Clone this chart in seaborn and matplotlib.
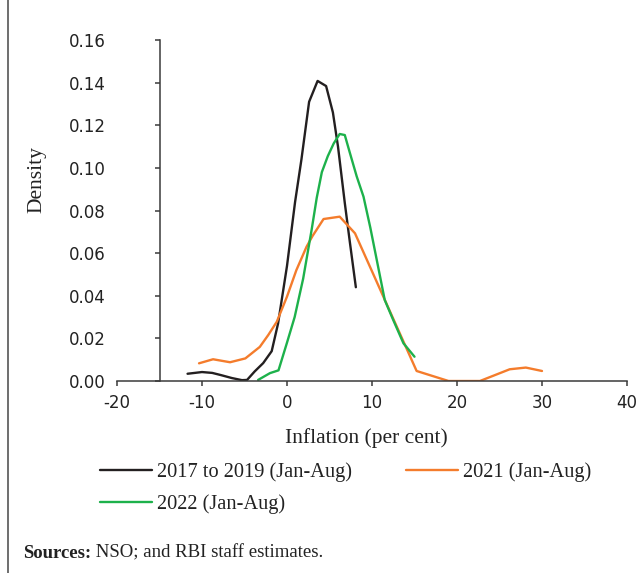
import numpy as np
import pandas as pd
import matplotlib
matplotlib.use("Agg")
import matplotlib.pyplot as plt
from matplotlib.lines import Line2D
from matplotlib.ticker import FormatStrFormatter
import seaborn as sns

# Kernel density estimates of inflation (per cent) by period
series_labels = ["2017 to 2019 (Jan-Aug)", "2021 (Jan-Aug)", "2022 (Jan-Aug)"]
series_colors = ["#231f20", "#f47c2c", "#1db14b"]

infl_2017_19 = [-11.7, -10.0, -8.8, -7.8, -6.5, -5.3, -4.7, -3.8, -2.8, -1.8, -1.05,
                0.0, 0.95, 1.7, 2.6, 3.6, 4.6, 5.4, 6.0, 6.8, 7.4, 8.1]
dens_2017_19 = [0.0034, 0.0042, 0.0038, 0.0028, 0.0014, 0.0004, 0.0005, 0.0045, 0.0084,
                0.014, 0.027, 0.054, 0.084, 0.104, 0.131, 0.1408, 0.1384, 0.126, 0.110,
                0.0835, 0.065, 0.044]

infl_2021 = [-10.35, -8.7, -6.7, -4.9, -3.2, -2.2, -1.2, 0.0, 1.1, 2.3, 3.0, 4.3, 6.2,
             8.0, 15.25, 19.0, 22.7, 26.2, 28.1, 30.0]
dens_2021 = [0.0083, 0.0102, 0.0088, 0.0106, 0.016, 0.0216, 0.0278, 0.0396, 0.052, 0.063,
             0.068, 0.076, 0.0771, 0.0693, 0.0047, 0.0, 0.0, 0.0055, 0.0063, 0.0047]

infl_2022 = [-3.4, -2.0, -1.0, 0.0, 0.9, 1.9, 2.9, 3.5, 4.1, 4.8, 5.5, 6.2, 6.8, 7.4, 8.2,
             9.0, 9.8, 10.7, 11.5, 12.5, 13.7, 15.0]
dens_2022 = [0.0005, 0.0037, 0.005, 0.018, 0.030, 0.048, 0.071, 0.086, 0.098, 0.1055,
             0.1115, 0.1159, 0.1154, 0.107, 0.096, 0.0865, 0.072, 0.054, 0.038, 0.0286,
             0.0177, 0.0114]

x_ticks = [-20, -10, 0, 10, 20, 30, 40]
y_ticks = [0.00, 0.02, 0.04, 0.06, 0.08, 0.10, 0.12, 0.14, 0.16]

df = pd.concat([
    pd.DataFrame({"inflation": infl_2017_19, "density": dens_2017_19, "series": series_labels[0]}),
    pd.DataFrame({"inflation": infl_2021, "density": dens_2021, "series": series_labels[1]}),
    pd.DataFrame({"inflation": infl_2022, "density": dens_2022, "series": series_labels[2]}),
], ignore_index=True)

sns.set_theme(style="white")
plt.rcParams["font.family"] = ["Liberation Serif", "DejaVu Serif"]
plt.rcParams["axes.unicode_minus"] = False

W, H, DPI = 638, 573, 100
fig = plt.figure(figsize=(W / DPI, H / DPI), dpi=DPI)
ax = fig.add_axes([117 / W, 1 - 381 / H, 510 / W, 341 / H])

axis_color = "#3a3a3a"
text_color = "#222222"
lw = 1.7

sns.lineplot(data=df, x="inflation", y="density", hue="series", hue_order=series_labels,
             palette=series_colors, sort=False, estimator=None, linewidth=lw,
             legend=False, ax=ax)

ax.set_xlim(x_ticks[0], x_ticks[-1])
ax.set_ylim(y_ticks[0], y_ticks[-1])
ax.set_xticks(x_ticks)
ax.set_yticks(y_ticks)
ax.yaxis.set_major_formatter(FormatStrFormatter("%.2f"))

for side in ["top", "right", "left"]:
    ax.spines[side].set_visible(False)
ax.spines["bottom"].set_color(axis_color)
ax.spines["bottom"].set_linewidth(1.1)

ax.tick_params(axis="x", direction="out", length=3.6, width=1.1, color=axis_color,
               pad=6, labelsize=12, labelcolor=text_color, bottom=True,
               labelfontfamily="DejaVu Sans")
ax.tick_params(axis="y", length=0, pad=8, labelsize=12, labelcolor=text_color,
               labelfontfamily="DejaVu Sans")

# vertical axis line crossing the x-axis at -15
sec = ax.secondary_yaxis((-15 - x_ticks[0]) / (x_ticks[-1] - x_ticks[0]))
sec.set_yticks(y_ticks)
sec.tick_params(axis="y", direction="out", length=3.6, width=1.1, color=axis_color,
                labelleft=False, labelright=False)
for s in sec.spines.values():
    s.set_color(axis_color)
    s.set_linewidth(1.1)

ax.set_xlabel("Inflation (per cent)", fontsize=15.5, color=text_color)
ax.set_ylabel("Density", fontsize=15.5, color=text_color)
ax.xaxis.set_label_coords(366 / W, 1 - 438 / H, transform=fig.transFigure)
ax.yaxis.set_label_coords(37 / W, 1 - 180 / H, transform=fig.transFigure)
ax.xaxis.label.set_va("center")
ax.yaxis.label.set_va("center")

handles = [Line2D([], [], color=series_colors[i], lw=lw) for i in (0, 2, 1)]
labels = [series_labels[i] for i in (0, 2, 1)]
fig.legend(handles, labels, ncol=2, loc="upper left",
           bbox_to_anchor=(100 / W, 1 - 462 / H), frameon=False, fontsize=14.7,
           handlelength=2.55, handletextpad=0.25, columnspacing=2.65,
           labelspacing=0.6, borderpad=0, borderaxespad=0, labelcolor=text_color)

# left border rule
fig.add_artist(Line2D([7.5 / W, 7.5 / W], [0, 1], transform=fig.transFigure,
                      color="#555555", lw=1.2))

src_y = 1 - 553 / H
t1 = fig.text(23 / W, src_y, "Sources:", fontsize=13.5, fontweight="bold",
              va="center", ha="left", color=text_color)
renderer = fig.canvas.get_renderer()
bb = t1.get_window_extent(renderer=renderer)
fig.text(bb.x1 / W, src_y, " NSO; and RBI staff estimates.", fontsize=13.5,
         va="center", ha="left", color=text_color)

fig.savefig("out.png", dpi=DPI)
